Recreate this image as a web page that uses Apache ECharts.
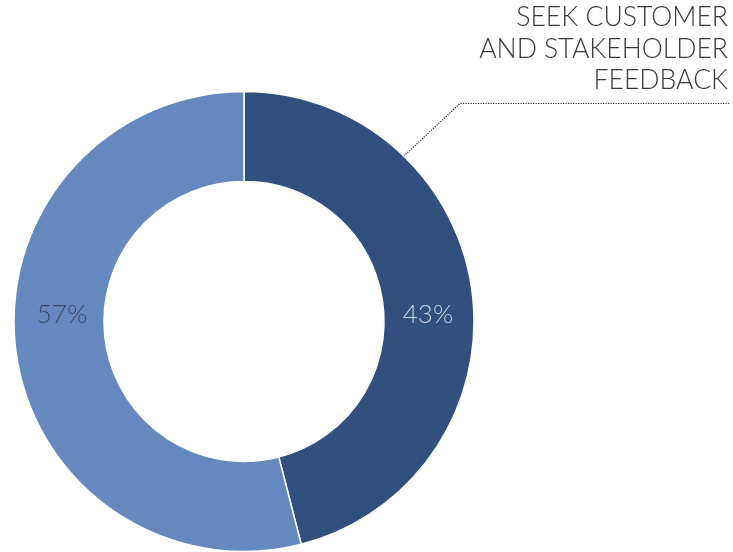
<!DOCTYPE html>
<html><head><meta charset="utf-8">
<script src="https://cdn.jsdelivr.net/npm/echarts@6/dist/echarts.min.js"></script>
<style>html,body{margin:0;padding:0;background:#fff}#c{width:733px;height:552px}</style>
</head><body><div id="c"></div>
<script>
// Data
const categories = ['Seek customer and stakeholder feedback', 'Other'];
const sliceValues = [46, 54];          // slice sizes as drawn in the picture
const sliceLabels = ['43%', '57%'];    // printed labels
const annotationLines = ['SEEK CUSTOMER', 'AND STAKEHOLDER', 'FEEDBACK'];

// Layout / style
const CX = 244, CY = 321.5, R0 = 140, R1 = 230;
const colors = ['#31507d', '#6589be'];
const labelColors = ['#c9d4e6', '#3a4a66'];
const FONT = 'Lato, "Open Sans", sans-serif';

const chart = echarts.init(document.getElementById('c'), null, {renderer: 'canvas'});
const RM = (R0 + R1) / 2;
const leaderAngle = 44 * Math.PI / 180; // from top, clockwise
const lx0 = CX + R1 * Math.sin(leaderAngle), ly0 = CY - R1 * Math.cos(leaderAngle);

chart.setOption({
  animation: false,
  series: [{
    type: 'pie',
    center: [CX, CY],
    radius: [R0, R1],
    startAngle: 90,
    clockwise: true,
    silent: true,
    itemStyle: {borderColor: '#fff', borderWidth: 1.5},
    label: {
      show: true, position: 'inside',
      fontFamily: FONT, fontWeight: 300, fontSize: 26,
      formatter: p => sliceLabels[p.dataIndex]
    },
    labelLine: {show: false},
    labelLayout: function (p) {
      const right = p.dataIndex === 0;
      return {x: right ? CX + RM - 1 : CX - RM + 3, y: CY + 6, align: 'center', verticalAlign: 'bottom'};
    },
    data: categories.map((c, i) => ({
      name: c, value: sliceValues[i],
      itemStyle: {color: colors[i]},
      label: {color: labelColors[i]}
    }))
  }],
  graphic: [
    {
      type: 'polyline', silent: true,
      shape: {points: [[lx0, ly0], [460, 103.5], [729, 103.5]]},
      style: {stroke: '#2a2a2a', lineWidth: 1.2, lineDash: [1.2, 1.3], fill: null}
    },
    {
      type: 'text', silent: true, x: 728, y: 2,
      style: {
        text: annotationLines.join('\n'),
        fontFamily: FONT, fontWeight: 300, fontSize: 26.6, lineHeight: 31.5,
        fill: '#3a3a3a', align: 'right', verticalAlign: 'top'
      }
    }
  ]
});
</script></body></html>
